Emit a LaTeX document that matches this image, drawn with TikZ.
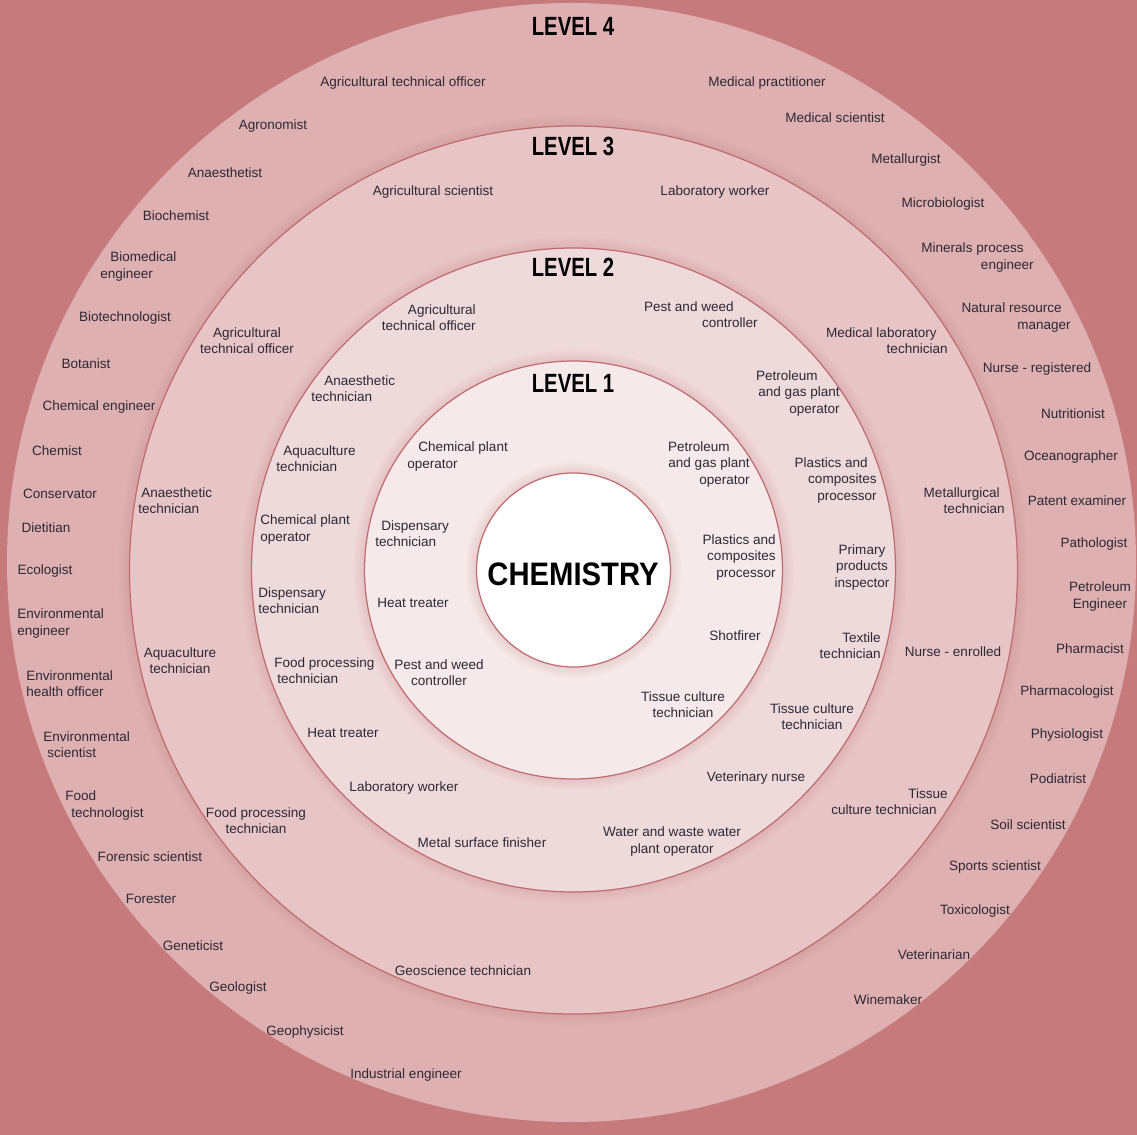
\documentclass[tikz,border=0pt]{standalone}
\usepackage{fontspec}
\usepackage{graphicx}
\setmainfont{Liberation Sans}
\definecolor{bgred}{HTML}{C77A7B}
\definecolor{ringfour}{HTML}{DEB0B1}
\definecolor{ringthree}{HTML}{E7C4C6}
\definecolor{ringtwo}{HTML}{EED9DB}
\definecolor{ringone}{HTML}{F5E9EA}
\definecolor{rimred}{HTML}{C06B70}
\definecolor{jobtext}{HTML}{2C2834}
\tikzset{
  job node/.style={
    font=\fontsize{7.7}{9.3}\selectfont,
    text=jobtext,
    inner sep=0pt,
    align=center,
    yshift=-0.8pt,
  },
  level node/.style={
    font=\bfseries\fontsize{15}{15}\selectfont,
    inner sep=0pt,
  },
  ring/.style={
    draw=rimred,
    line width=0.7pt,
  },
  glow/.style={
    draw=rimred,
    draw opacity=0.045,
  },
}

\begin{document}
\begin{tikzpicture}[x=0.02cm, y=-0.02cm]
      \useasboundingbox (0,0) rectangle (1137,1135);
      \fill[bgred] (0,0) rectangle (1137,1135);
      \coordinate (c) at (573.5,570);

      % rings, outside in
      \fill[ringfour] (571.5,562.5) ellipse [x radius=564.5, y radius=559.5];
      \foreach \w in {3,6,9,12} \draw[glow, line width=\w pt] (c) circle [radius=444];
      \filldraw[ring, fill=ringthree] (c) circle [radius=444];
      \foreach \w in {3,6,9,12} \draw[glow, line width=\w pt] (c) circle [radius=322];
      \filldraw[ring, fill=ringtwo] (c) circle [radius=322];
      \foreach \w in {3,6,9,12} \draw[glow, line width=\w pt] (c) circle [radius=209];
      \filldraw[ring, fill=ringone] (c) circle [radius=209];
      \foreach \w in {3,6,9,12} \draw[glow, line width=\w pt] (c) circle [radius=97];
      \filldraw[ring, fill=white] (c) circle [radius=97];

      \node[level node] (lvl4) at (573,026) {\scalebox{0.77}[1]{LEVEL 4}};
      \node[level node] (lvl3) at (573,146) {\scalebox{0.77}[1]{LEVEL 3}};
      \node[level node] (lvl2) at (573,267) {\scalebox{0.77}[1]{LEVEL 2}};
      \node[level node] (lvl1) at (573,383) {\scalebox{0.77}[1]{LEVEL 1}};
      \node[level node, font=\bfseries\fontsize{18.5}{18.5}\selectfont] (chem) at (573,574) {\scalebox{0.9}[1]{CHEMISTRY}};

      % level 4
      \node[job node] (401) at (403,082) {Agricultural technical officer};
      \node[job node] (402) at (273,125) {Agronomist};
      \node[job node] (403) at (225,171) {Anaesthetist};
      \node[job node] (404) at (176,214) {Biochemist};
      \node[job node, anchor=west, align=left] (405) at (100,265) {\hspace*{0.2cm}Biomedical\\engineer};
      \node[job node] (406) at (125,317) {Biotechnologist};
      \node[job node] (407) at (086,362) {Botanist};
      \node[job node] (408) at (099,406) {Chemical engineer};
      \node[job node] (409) at (057,449) {Chemist};
      \node[job node] (410) at (060,492) {Conservator};
      \node[job node] (411) at (046,526) {Dietitian};
      \node[job node] (412) at (045,570) {Ecologist};
      \node[job node, anchor=west, align=left] (413) at (017,622) {Environmental\\engineer};
      \node[job node, anchor=west, align=left] (414) at (026,682) {Environmental\\health officer};
      \node[job node, anchor=west, align=left] (415) at (043,743) {Environmental\\\hspace*{0.08cm}scientist};
      \node[job node, anchor=west, align=left] (416) at (065,804) {Food\\\hspace*{0.12cm}technologist};
      \node[job node] (417) at (150,855) {Forensic scientist};
      \node[job node] (418) at (151,898) {Forester};
      \node[job node] (419) at (193,944) {Geneticist};
      \node[job node] (420) at (238,987) {Geologist};
      \node[job node] (421) at (305,1031) {Geophysicist};
      \node[job node] (422) at (406,1074) {Industrial engineer};
      \node[job node] (423) at (767,082) {Medical practitioner};
      \node[job node] (424) at (835,116) {Medical scientist};
      \node[job node] (425) at (906,159) {Metallurgist};
      \node[job node] (426) at (943,203) {Microbiologist};
      \node[job node, anchor=east, align=right] (427) at (1034,256) {Minerals process\hspace*{0.2cm}\\engineer};
      \node[job node, anchor=east, align=right] (428) at (1071,316) {Natural resource\hspace*{0.18cm}\\manager};
      \node[job node] (429) at (1037,368) {Nurse - registered};
      \node[job node] (430) at (1073,412) {Nutritionist};
      \node[job node] (431) at (1071,456) {Oceanographer};
      \node[job node] (432) at (1077,499) {Patent examiner};
      \node[job node] (433) at (1094,543) {Pathologist};
      \node[job node] (434) at (1100,595) {Petroleum\\Engineer};
      \node[job node] (435) at (1090,647) {Pharmacist};
      \node[job node] (436) at (1067,691) {Pharmacologist};
      \node[job node] (437) at (1067,734) {Physiologist};
      \node[job node] (438) at (1058,777) {Podiatrist};
      \node[job node] (439) at (1028,823) {Soil scientist};
      \node[job node] (440) at (995,866) {Sports scientist};
      \node[job node] (441) at (975,910) {Toxicologist};
      \node[job node] (442) at (934,953) {Veterinarian};
      \node[job node] (443) at (888,998) {Winemaker};

      % level 3
      \node[job node] (301) at (433,191) {Agricultural scientist};
      \node[job node] (302) at (715,191) {Laboratory worker};
      \node[job node] (303) at (247,339) {Agricultural\\technical officer};
      \node[job node, anchor=west, align=left] (304) at (138,499) {\hspace*{0.06cm}Anaesthetic\\technician};
      \node[job node] (305) at (180,659) {Aquaculture\\technician};
      \node[job node] (306) at (256,819) {Food processing\\technician};
      \node[job node] (307) at (463,969) {Geoscience technician};
      \node[job node, anchor=east, align=right] (308) at (948,800) {Tissue\\culture technician\hspace*{0.22cm}};
      \node[job node] (309) at (953,650) {Nurse - enrolled};
      \node[job node, anchor=east, align=right] (310) at (1005,499) {Metallurgical\hspace*{0.1cm}\\technician};
      \node[job node, anchor=east, align=right] (311) at (948,339) {Medical laboratory\hspace*{0.22cm}\\technician};

      % level 2
      \node[job node, anchor=east, align=right] (201) at (476,316) {Agricultural\\technical officer};
      \node[job node, anchor=east, align=right] (202) at (758,313) {Pest and weed\hspace*{0.48cm}\\controller};
      \node[job node, anchor=west, align=left] (203) at (311,387) {\hspace*{0.26cm}Anaesthetic\\technician};
      \node[job node, anchor=west, align=left] (204) at (276,457) {\hspace*{0.14cm}Aquaculture\\technician};
      \node[job node, anchor=west, align=left] (205) at (260,528) {Chemical plant\\operator};
      \node[job node, anchor=west, align=left] (206) at (258,599) {Dispensary\\technician};
      \node[job node, anchor=west, align=left] (207) at (274,669) {Food processing\\\hspace*{0.06cm}technician};
      \node[job node] (208) at (343,732) {Heat treater};
      \node[job node] (209) at (404,787) {Laboratory worker};
      \node[job node] (210) at (482,841) {Metal surface finisher};
      \node[job node] (211) at (672,840) {Water and waste water\\plant operator};
      \node[job node] (212) at (756,777) {Veterinary nurse};
      \node[job node] (213) at (812,715) {Tissue culture\\technician};
      \node[job node, anchor=east, align=right] (214) at (881,644) {Textile\\technician};
      \node[job node] (215) at (862,566) {Primary\\products\\inspector};
      \node[job node, anchor=east, align=right] (216) at (877,479) {Plastics and\hspace*{0.18cm}\\composites\\processor};
      \node[job node, anchor=east, align=right] (217) at (840,392) {Petroleum\hspace*{0.44cm}\\and gas plant\hspace*{0.24cm}\\operator};

      % level 1
      \node[job node, anchor=west, align=left] (101) at (407,455) {\hspace*{0.22cm}Chemical plant\\operator};
      \node[job node, anchor=east, align=right] (102) at (750,463) {Petroleum\hspace*{0.4cm}\\and gas plant\hspace*{0.16cm}\\operator};
      \node[job node, anchor=west, align=left] (103) at (375,532) {\hspace*{0.12cm}Dispensary\\technician};
      \node[job node] (104) at (413,602) {Heat treater};
      \node[job node] (105) at (439,671) {Pest and weed\\controller};
      \node[job node, anchor=east, align=right] (106) at (776,556) {Plastics and\\composites\\processor};
      \node[job node] (107) at (735,634) {Shotfirer};
      \node[job node] (108) at (683,703) {Tissue culture\\technician};
\end{tikzpicture}
\end{document}
